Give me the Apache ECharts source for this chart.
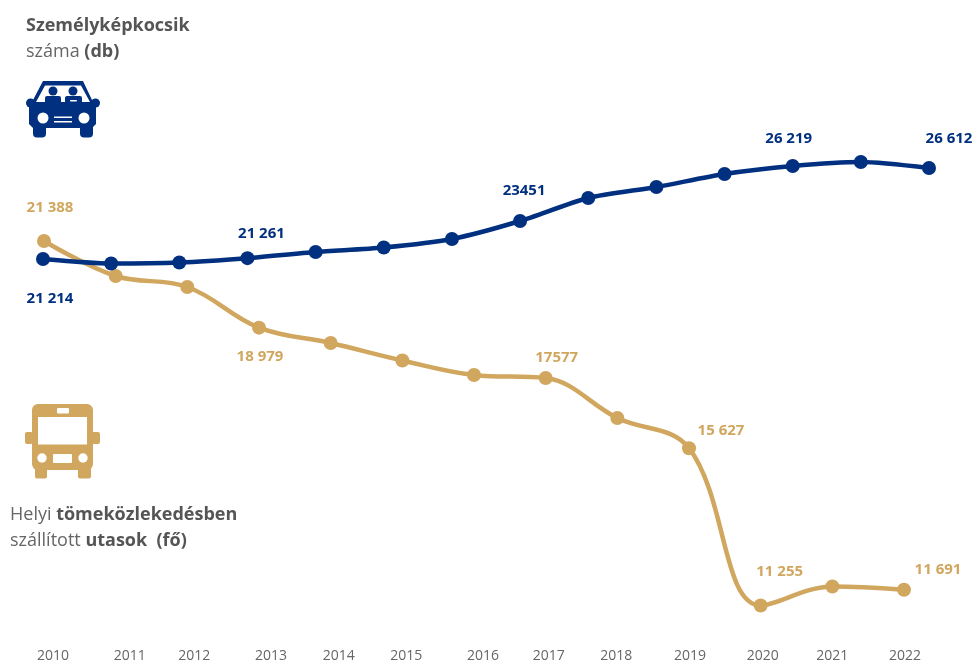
<!DOCTYPE html>
<html>
<head>
<meta charset="utf-8">
<style>
  html, body { margin: 0; padding: 0; background: #fff; }
  #chart { width: 975px; height: 663px; }
</style>
<script src="https://cdn.jsdelivr.net/npm/echarts@6/dist/echarts.min.js"></script>
</head>
<body>
<div id="chart"></div>
<script>
const years = ['2010', '2011', '2012', '2013', '2014', '2015', '2016', '2017', '2018', '2019', '2020', '2021', '2022'];

// utasok (fo), 13 pont
const busValues = [21388, 20415, 20109, 18979, 18552, 18066, 17663, 17577, 16467, 15627, 11255, 11783, 11691];
const busLabels = ['21 388', '', '', '18 979', '', '', '', '17577', '', '15 627', '11 255', '', '11 691'];

// szemelyauto (db), a kepen 14 pont van
const carValues = [21214, 20961, 21017, 21261, 21607, 21860, 22338, 23349, 24641, 25259, 25989, 26439, 26663, 26326];
const carLabels = ['21 214', '', '', '21 261', '', '', '', '23451', '', '', '', '26 219', '', '26 612'];

const NAVY = '#00307f';
const GOLD = '#d1a75f';
const TEXT = '#555555';
const FONT = '"Open Sans"';

// cimke eltolasok a ponthoz kepest
const busOffsets = { 0: [6, -33], 3: [1, 29], 7: [11, -20], 9: [32, -17], 10: [19, -34], 12: [34, -20] };
const carOffsets = { 0: [7, 40], 3: [14, -24], 7: [4, -30], 11: [-4, -27], 13: [20, -29] };
// az evszamok nem pontosan a pontok alatt vannak
const yearShift = [9, 14, 7, 12, 8, 4, 9, 3, -1, 1, 2, 0, 1];

function points(values, labels, offsets, color) {
  return values.map((v, i) => ({
    value: v,
    label: labels[i] ? {
      show: true,
      position: 'inside',
      offset: offsets[i],
      formatter: labels[i],
      color: color,
      fontFamily: FONT,
      fontWeight: 700,
      fontSize: 15
    } : { show: false }
  }));
}

function rect(x, y, width, height, r, fill) {
  return { type: 'rect', silent: true, shape: { x, y, width, height, r }, style: { fill } };
}
function circle(cx, cy, r, fill) {
  return { type: 'circle', silent: true, shape: { cx, cy, r }, style: { fill } };
}
function path(d, fill) {
  return { type: 'polygon', silent: true, shape: { points: d }, style: { fill } };
}

const carIcon = [
  circle(30.5, 103, 4.5, NAVY),
  circle(95.5, 103, 4.5, NAVY),
  path([[43, 81], [83, 81], [92, 100], [96, 106], [96, 124], [92, 128], [33, 128], [29, 124], [29, 106], [33, 100]], NAVY),
  rect(33, 124, 13, 13.5, 4, NAVY),
  rect(80, 124, 13, 13.5, 4, NAVY),
  path([[45, 85.5], [81, 85.5], [90, 102], [36, 102]], '#fff'),
  circle(53, 91, 4.5, NAVY),
  circle(73, 91, 4.5, NAVY),
  rect(45, 96, 16, 9, 2, NAVY),
  rect(65, 96, 17, 9, 2, NAVY),
  rect(70, 100, 7, 1.5, 0.7, '#fff'),
  circle(43, 118, 5.5, '#fff'),
  circle(84, 118, 5.5, '#fff'),
  rect(54, 116.5, 18, 1.5, 0, '#fff'),
  rect(54, 121, 18, 1.5, 0, '#fff')
];

const busIcon = [
  rect(25, 432, 8, 12, 2, GOLD),
  rect(92, 432, 8, 12, 2, GOLD),
  rect(32, 404, 61, 66, 6, GOLD),
  rect(35, 466, 12, 12.5, 2, GOLD),
  rect(78, 466, 13, 12.5, 2, GOLD),
  rect(38, 417, 49, 27.5, 0, '#fff'),
  rect(57, 408, 12, 5.5, 1, '#fff'),
  circle(42, 458, 4.7, '#fff'),
  circle(83, 458, 4.7, '#fff'),
  rect(53, 454, 19, 9, 1, '#fff')
];

const titleRich = {
  b: { fontFamily: FONT, fontWeight: 700, fontSize: 18, color: TEXT, lineHeight: 26 },
  n: { fontFamily: FONT, fontWeight: 400, fontSize: 18, color: '#666', lineHeight: 26 }
};

const chart = echarts.init(document.getElementById('chart'), null, { renderer: 'canvas' });
chart.setOption({
  animation: false,
  backgroundColor: '#fff',
  title: [
    { left: 26, top: 13, padding: 0, text: '{b|Személyképkocsik}\n{n|száma }{b|(db)}', textStyle: { rich: titleRich } },
    { left: 10, top: 502, padding: 0, text: '{n|Helyi }{b|tömeközlekedésben}\n{n|szállított }{b|utasok  (fő)}', textStyle: { rich: titleRich } }
  ],
  grid: [
    { left: 44, right: 71, top: 100, bottom: 33, outerBoundsMode: 'none' },
    { left: 43, right: 46, top: 100, bottom: 33, outerBoundsMode: 'none' }
  ],
  xAxis: [
    {
      type: 'category',
      gridIndex: 0,
      boundaryGap: false,
      data: years.map((y, i) => ({
        value: y,
        textStyle: yearShift[i] >= 0
          ? { padding: [0, 0, 0, yearShift[i] * 2] }
          : { padding: [0, -yearShift[i] * 2, 0, 0] }
      })),
      axisLine: { show: false },
      axisTick: { show: false },
      axisLabel: { interval: 0, margin: 19, color: '#666', fontFamily: FONT, fontSize: 14 }
    },
    {
      type: 'category',
      gridIndex: 1,
      boundaryGap: false,
      show: false,
      data: carValues.map((v, i) => i)
    }
  ],
  yAxis: [
    { type: 'value', gridIndex: 0, show: false, min: 10573, max: 25308 },
    { type: 'value', gridIndex: 1, show: false, min: 370, max: 30147 }
  ],
  series: [
    {
      type: 'line',
      xAxisIndex: 0,
      yAxisIndex: 0,
      smooth: 0.38,
      symbol: 'circle',
      symbolSize: 14,
      lineStyle: { color: GOLD, width: 4.5 },
      itemStyle: { color: GOLD },
      data: points(busValues, busLabels, busOffsets, GOLD)
    },
    {
      type: 'line',
      xAxisIndex: 1,
      yAxisIndex: 1,
      smooth: 0.25,
      symbol: 'circle',
      symbolSize: 14,
      lineStyle: { color: NAVY, width: 4.5 },
      itemStyle: { color: NAVY },
      data: points(carValues, carLabels, carOffsets, NAVY)
    }
  ],
  graphic: carIcon.concat(busIcon)
});
</script>
</body>
</html>
